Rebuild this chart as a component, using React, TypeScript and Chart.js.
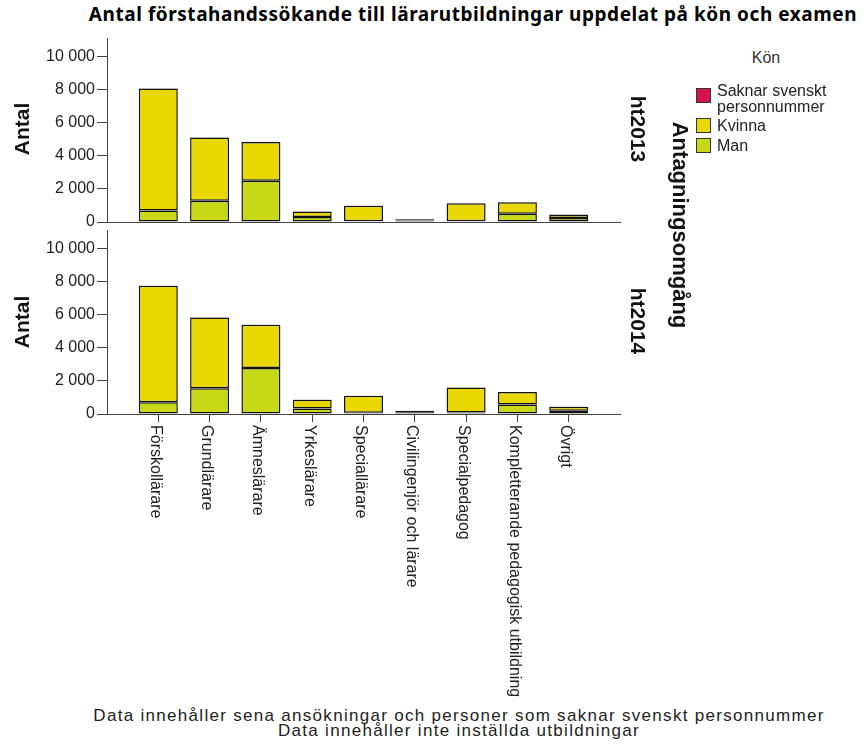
import React, { useEffect, useRef } from 'react';
import { Chart, registerables } from 'chart.js';

Chart.register(...registerables);

const categories = [
  'Förskollärare',
  'Grundlärare',
  'Ämneslärare',
  'Yrkeslärare',
  'Speciallärare',
  'Civilingenjör och lärare',
  'Specialpedagog',
  'Kompletterande pedagogisk utbildning',
  'Övrigt',
];

// ht2013
const man2013 = [700, 1290, 2500, 300, 40, 90, 40, 500, 240];
const kvinna2013 = [7385, 3825, 2355, 340, 950, 80, 1100, 700, 210];
const saknar2013 = [15, 15, 15, 10, 10, 5, 10, 10, 10];

// ht2014
const man2014 = [710, 1560, 2790, 340, 70, 100, 90, 570, 200];
const kvinna2014 = [7055, 4285, 2625, 530, 1030, 90, 1520, 760, 240];
const saknar2014 = [15, 15, 15, 10, 10, 5, 10, 10, 10];

const yTicks = [0, 2000, 4000, 6000, 8000, 10000];
const yMax = 11150;

const seriesNames = ['Saknar svenskt personnummer', 'Kvinna', 'Man'];
const colSaknar = '#D2164C';
const colKvinna = '#E8D700';
const colMan = '#C6D816';
const axisColor = '#444';
const textColor = '#222';
const FONT = '"Liberation Sans", Arial, sans-serif';

const pad = (arr: number[]) => [null, ...arr, null];
const fmt = (v: number) => String(v).replace(/\B(?=(\d{3})+(?!\d))/g, ' ');

function makeConfig(man: number[], kvinna: number[], saknar: number[], showTicks: boolean, padBottom: number): any {
  const ds = (label: string, data: number[], color: string) => ({
    label,
    data: pad(data),
    backgroundColor: color,
    borderColor: '#111',
    borderWidth: 1.5,
    borderSkipped: false,
    categoryPercentage: 1,
    barPercentage: 0.76,
  });
  return {
    type: 'bar',
    data: {
      labels: ['', ...categories, ''],
      datasets: [
        ds(seriesNames[2], man, colMan),
        ds(seriesNames[1], kvinna, colKvinna),
        ds(seriesNames[0], saknar, colSaknar),
      ],
    },
    options: {
      animation: false,
      responsive: false,
      maintainAspectRatio: false,
      layout: { padding: { left: 0, right: 20, top: 8, bottom: padBottom } },
      plugins: { legend: { display: false }, tooltip: { enabled: false }, title: { display: false } },
      scales: {
        x: {
          stacked: true,
          offset: false,
          ticks: { display: false },
          grid: {
            offset: false,
            drawOnChartArea: false,
            drawTicks: showTicks,
            tickLength: 8,
            tickColor: (c: any) => (c.index === 0 || c.index === categories.length + 1 ? 'rgba(0,0,0,0)' : axisColor),
          },
          border: { display: true, color: axisColor, width: 1 },
          afterFit: (s: any) => {
            s.height = 8;
            s.paddingLeft = 0;
            s.paddingRight = 0;
          },
        },
        y: {
          stacked: true,
          min: 0,
          max: yMax,
          afterBuildTicks: (s: any) => {
            s.ticks = yTicks.map((v) => ({ value: v }));
          },
          ticks: {
            font: { family: FONT, size: 16 },
            color: textColor,
            padding: 2,
            callback: (v: any) => fmt(Number(v)),
          },
          grid: { drawOnChartArea: false, drawTicks: true, tickLength: 10, tickColor: axisColor },
          border: { display: true, color: axisColor, width: 1 },
          afterFit: (s: any) => {
            s.width = 107;
            s.paddingTop = 0;
            s.paddingBottom = 0;
          },
        },
      },
    },
  };
}

const xLabelPlugin = {
  id: 'xLabelsRotated',
  afterDraw(chart: any) {
    const x = chart.scales.x;
    const ctx = chart.ctx;
    ctx.save();
    ctx.font = `16px ${FONT}`;
    ctx.fillStyle = textColor;
    ctx.textAlign = 'left';
    ctx.textBaseline = 'middle';
    categories.forEach((c, i) => {
      const px = x.getPixelForValue(i + 1);
      ctx.save();
      ctx.translate(px - 3, chart.chartArea.bottom + 11);
      ctx.rotate(Math.PI / 2);
      ctx.fillText(c, 0, 0);
      ctx.restore();
    });
    ctx.restore();
  },
};

const abs = (s: React.CSSProperties): React.CSSProperties => ({ position: 'absolute', ...s });

function Rot({ text, cx, cy, deg, size, bold }: { text: string; cx: number; cy: number; deg: number; size: number; bold?: boolean }) {
  return (
    <div
      style={abs({
        left: cx,
        top: cy,
        transform: `translate(-50%, -50%) rotate(${deg}deg)`,
        whiteSpace: 'nowrap',
        fontSize: size,
        fontWeight: bold ? 'bold' : 'normal',
        lineHeight: `${size}px`,
        color: '#111',
      })}
    >
      {text}
    </div>
  );
}

export default function App() {
  const topRef = useRef<HTMLCanvasElement>(null);
  const botRef = useRef<HTMLCanvasElement>(null);

  useEffect(() => {
    const c1 = new Chart(topRef.current!, makeConfig(man2013, kvinna2013, saknar2013, false, 0));
    const c2 = new Chart(botRef.current!, { ...makeConfig(man2014, kvinna2014, saknar2014, true, 283), plugins: [xLabelPlugin] });
    return () => {
      c1.destroy();
      c2.destroy();
    };
  }, []);

  const legendItems = [
    { label: ['Saknar svenskt', 'personnummer'], color: colSaknar, boxTop: 88, textTop: 83 },
    { label: ['Kvinna'], color: colKvinna, boxTop: 118, textTop: 118 },
    { label: ['Man'], color: colMan, boxTop: 138, textTop: 138 },
  ];

  return (
    <div
      style={abs({
        left: 0,
        top: 0,
        width: 865,
        height: 746,
        background: '#fff',
        overflow: 'hidden',
        fontFamily: FONT,
        color: textColor,
      })}
    >
      <div
        style={abs({
          left: 0,
          width: 946,
          top: 4,
          textAlign: 'center',
          fontFamily: '"Noto Sans", "Open Sans", sans-serif',
          fontWeight: 'bold',
          fontSize: 19,
          letterSpacing: '0.55px',
          lineHeight: '20px',
          whiteSpace: 'nowrap',
          color: '#000',
        })}
      >
        Antal förstahandssökande till lärarutbildningar uppdelat på kön och examen
      </div>

      <canvas ref={topRef} width={640} height={200} style={abs({ left: 0, top: 30, width: 640, height: 200 })} />
      <canvas ref={botRef} width={640} height={483} style={abs({ left: 0, top: 222, width: 640, height: 483 })} />

      <Rot text="Antal" cx={21} cy={129} deg={-90} size={21} bold />
      <Rot text="Antal" cx={21} cy={322} deg={-90} size={21} bold />
      <Rot text="ht2013" cx={638} cy={129} deg={90} size={21} bold />
      <Rot text="ht2014" cx={638} cy={321} deg={90} size={21} bold />
      <Rot text="Antagningsomgång" cx={680} cy={225} deg={90} size={22} bold />

      <div style={abs({ left: 766, top: 50, transform: 'translateX(-50%)', fontSize: 16, lineHeight: '16px', color: '#333' })}>Kön</div>
      {legendItems.map((it) => (
        <React.Fragment key={it.label[0]}>
          <div
            style={abs({
              left: 696,
              top: it.boxTop,
              width: 13,
              height: 13,
              background: it.color,
              border: '1px solid #333',
            })}
          />
          <div style={abs({ left: 717, top: it.textTop, fontSize: 16, lineHeight: '16px', whiteSpace: 'nowrap' })}>
            {it.label.map((l) => (
              <div key={l}>{l}</div>
            ))}
          </div>
        </React.Fragment>
      ))}

      <div
        style={abs({
          left: 0,
          width: 918,
          top: 708,
          textAlign: 'center',
          fontSize: 17,
          lineHeight: '15px',
          letterSpacing: '1.3px',
          whiteSpace: 'nowrap',
        })}
      >
        <div>Data innehåller sena ansökningar och personer som saknar svenskt personnummer</div>
        <div>Data innehåller inte inställda utbildningar</div>
      </div>
    </div>
  );
}
